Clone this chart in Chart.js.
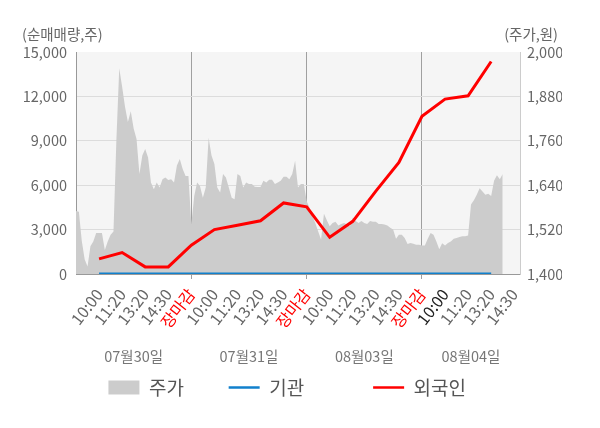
<!DOCTYPE html>
<html>
<head>
<meta charset="utf-8">
<script src="https://cdn.jsdelivr.net/npm/chart.js@4"></script>
<style>
  html, body { margin: 0; padding: 0; background: #fff; }
  #wrap { width: 600px; height: 428px; }
</style>
</head>
<body>
<div id="wrap"><canvas id="chart"></canvas></div>
<script>
const days = ['07월30일', '07월31일', '08월03일', '08월04일'];
const timeLabels = ['10:00', '11:20', '13:20', '14:30'];
const closeLabel = '장마감';

// 주가 (원)
const price0730 = [1570, 1568, 1490, 1440, 1420, 1475, 1488, 1511, 1511, 1511, 1465, 1488, 1506, 1515, 1761, 1956, 1906, 1852, 1811, 1840,
  1793, 1765, 1670, 1720, 1738, 1715, 1647, 1629, 1647, 1634, 1656, 1661, 1654, 1656, 1647, 1693, 1711, 1684, 1665, 1665];
const price0731 = [1534, 1611, 1647, 1638, 1606, 1634, 1768, 1720, 1697, 1634, 1620, 1670, 1661, 1634, 1606, 1602, 1670, 1665, 1634, 1647,
  1643, 1643, 1636, 1635, 1635, 1652, 1647, 1655, 1655, 1643, 1647, 1652, 1663, 1663, 1656, 1670, 1706, 1634, 1643, 1643];
const price0803 = [1597, 1579, 1556, 1538, 1515, 1493, 1563, 1545, 1529, 1538, 1541, 1531, 1535, 1538, 1534, 1529, 1552, 1543, 1538, 1543,
  1538, 1535, 1543, 1541, 1541, 1535, 1535, 1534, 1531, 1525, 1520, 1495, 1506, 1506, 1497, 1481, 1484, 1482, 1479, 1479];
const price0804 = [1477, 1477, 1495, 1511, 1506, 1488, 1467, 1483, 1477, 1484, 1488, 1495, 1497, 1500, 1502, 1502, 1504, 1588, 1599, 1614,
  1632, 1623, 1614, 1617, 1611, 1652, 1667, 1656, 1670];

// 순매매량 (주) at 10:00, 11:20, 13:20, 14:30, 장마감
const foreign0730 = [1020, 1450, 480, 480, 1950];
const foreign0731 = [3000, 3300, 3600, 4800, 4540];
const foreign0803 = [2480, 3560, 5600, 7540, 10660];
const foreign0804 = [11820, 12040, 14360];
const inst0730 = [0, 0, 0, 0, 0];
const inst0731 = [0, 0, 0, 0, 0];
const inst0803 = [0, 0, 0, 0, 0];
const inst0804 = [0, 0, 0];

const daySlots = 40;      // slots per full trading day
const lastDaySlots = 34;  // axis ends at 14:30 of the last day
const labelStep = 8;
const total = daySlots * 3 + lastDaySlots + 1;
const lastDayStart = daySlots * 3;

const labels = [];
for (let i = 0; i < total; i++) {
  const k = i % daySlots;
  if (k === 0 && i > 0) labels.push(closeLabel);
  else if (k % labelStep === 0 && k > 0) labels.push(timeLabels[k / labelStep - 1]);
  else labels.push('');
}

function spread(perDay) {
  const out = new Array(total).fill(null);
  perDay.forEach((vals, d) => {
    vals.forEach((v, j) => { out[d * daySlots + (j + 1) * labelStep] = v; });
  });
  return out;
}

const priceData = [].concat(price0730, price0731, price0803, price0804);
while (priceData.length < total) priceData.push(null);
const foreignData = spread([foreign0730, foreign0731, foreign0803, foreign0804]);
const instData = spread([inst0730, inst0731, inst0803, inst0804]);

const dayCenters = days.map((_, d) => {
  const len = d === days.length - 1 ? lastDaySlots : daySlots;
  return d * daySlots + len / 2;
});

const FONT = '"Noto Sans CJK KR", "Noto Sans", sans-serif';
// extra room after each legend entry (the legend has uneven gaps)
const legendTail = ['\u2002\u2002\u2002 ', '\u2002\u2002\u2002\u2002\u2002\u2002', '\u2002'];

const plotBackground = {
  id: 'plotBackground',
  beforeDraw(chart) {
    const { ctx, chartArea: a } = chart;
    ctx.save();
    ctx.fillStyle = '#f5f5f5';
    ctx.fillRect(a.left, a.top, a.right - a.left, a.bottom - a.top);
    ctx.restore();
  }
};

const axisUnits = {
  id: 'axisUnits',
  afterDraw(chart) {
    const { ctx, scales } = chart;
    ctx.save();
    ctx.font = '14.5px ' + FONT;
    ctx.fillStyle = '#666';
    ctx.textBaseline = 'middle';
    ctx.textAlign = 'left';
    ctx.fillText('(순매매량,주)', scales.y.left, 34);
    ctx.textAlign = 'right';
    ctx.fillText('(주가,원)', scales.y2.right - 4, 34);
    ctx.restore();
  }
};

new Chart(document.getElementById('chart'), {
  type: 'line',
  data: {
    labels: labels,
    datasets: [
      {
        label: '주가',
        data: priceData,
        yAxisID: 'y2',
        borderWidth: 0,
        borderColor: '#cccccc',
        backgroundColor: '#cccccc',
        fill: 'start',
        pointRadius: 0,
        pointStyle: 'rect',
        tension: 0,
        order: 2
      },
      {
        label: '기관',
        data: instData,
        yAxisID: 'y',
        borderColor: '#1180cc',
        backgroundColor: '#1180cc',
        borderWidth: 3,
        pointRadius: 0,
        pointStyle: 'line',
        spanGaps: true,
        order: 1
      },
      {
        label: '외국인',
        data: foreignData,
        yAxisID: 'y',
        borderColor: '#ff0000',
        backgroundColor: '#ff0000',
        borderWidth: 3,
        pointRadius: 0,
        pointStyle: 'line',
        spanGaps: true,
        order: 0
      }
    ]
  },
  options: {
    responsive: true,
    maintainAspectRatio: false,
    animation: false,
    layout: { padding: { top: 52, left: 22, right: 38, bottom: 21 } },
    plugins: {
      tooltip: { enabled: false },
      legend: {
        position: 'bottom',
        labels: {
          usePointStyle: true,
          pointStyleWidth: 31,
          boxHeight: 14,
          padding: 12,
          color: '#555',
          font: { family: FONT, size: 19 },
          sort: (a, b) => a.datasetIndex - b.datasetIndex,
          generateLabels(chart) {
            const items = Chart.defaults.plugins.legend.labels.generateLabels(chart);
            items.forEach(it => {
              if (it.pointStyle === 'line') it.lineWidth = 2.5;
              it.text += legendTail[it.datasetIndex];
            });
            return items;
          }
        }
      }
    },
    scales: {
      x: {
        type: 'category',
        afterFit: s => { s.height = 56; },
        grid: {
          color: ctx => (ctx.index > 0 && ctx.index % daySlots === 0) ? '#a0a0a0' : 'transparent',
          tickLength: 5
        },
        border: { color: '#999' },
        ticks: {
          autoSkip: false,
          minRotation: 52,
          maxRotation: 52,
          padding: 6,
          font: { family: FONT, size: 16 },
          color: ctx => {
            const lbl = ctx.tick && ctx.tick.label;
            if (lbl === closeLabel) return '#ff0000';
            if (ctx.index === lastDayStart + labelStep) return '#222';
            return '#666';
          }
        }
      },
      xd: {
        type: 'linear',
        position: 'bottom',
        weight: 1,
        min: 0,
        max: total - 1,
        afterFit: s => { s.height = 36; },
        grid: { display: false, drawTicks: false },
        border: { display: false },
        afterBuildTicks: scale => { scale.ticks = dayCenters.map(v => ({ value: v })); },
        ticks: {
          autoSkip: false,
          maxRotation: 0,
          padding: 18,
          color: '#777',
          font: { family: FONT, size: 14.5 },
          callback: (v, i) => days[i]
        }
      },
      y: {
        position: 'left',
        min: 0,
        max: 15000,
        afterFit: s => { s.width = 54; },
        grid: {
          color: ctx => (ctx.tick && ctx.tick.value === 15000) ? 'transparent' : '#dcdcdc',
          drawTicks: false
        },
        border: { color: '#999' },
        ticks: {
          stepSize: 3000,
          padding: 9,
          color: '#666',
          font: { family: FONT, size: 14.5 },
          callback: v => v.toLocaleString('en-US')
        }
      },
      y2: {
        position: 'right',
        min: 1400,
        max: 2000,
        afterFit: s => { s.width = 42; },
        grid: { display: false, drawTicks: false },
        border: { color: '#cccccc' },
        ticks: {
          stepSize: 120,
          padding: 7,
          color: '#666',
          font: { family: FONT, size: 14.5 },
          callback: v => v.toLocaleString('en-US')
        }
      }
    }
  },
  plugins: [plotBackground, axisUnits]
});
</script>
</body>
</html>
